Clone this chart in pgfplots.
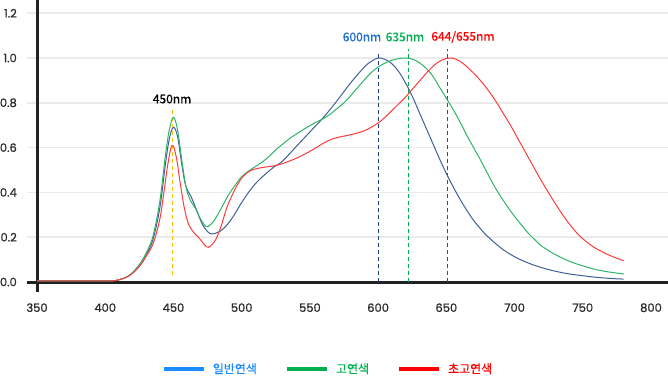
\documentclass[border=0pt]{standalone}
\usepackage{pgfplots}
\pgfplotsset{compat=1.18}
\usepackage{fontspec}
\setmainfont{Poppins}
\newfontfamily\tickfont{Poppins}[FakeBold=1]
\newfontfamily\kr{Noto Sans CJK KR}
\newfontfamily\krm{Noto Sans CJK KR}[FakeBold=0.5]
\definecolor{cblue}{HTML}{41609A}
\definecolor{cgreen}{HTML}{2DB566}
\definecolor{cred}{HTML}{FF3B3B}
\definecolor{dblue}{HTML}{1F3F7F}
\definecolor{dgreen}{HTML}{00B050}
\definecolor{dred}{HTML}{FF0000}
\definecolor{dorange}{HTML}{FFC000}
\definecolor{lblue}{HTML}{1A8CFF}
\definecolor{tblue}{HTML}{1A6FD0}
\definecolor{gridgray}{HTML}{EBEBEB}
\definecolor{axblack}{HTML}{222222}
\definecolor{ticktext}{HTML}{2A2A2A}
\begin{document}
\begin{tikzpicture}
\useasboundingbox (0,0) rectangle (668pt,376pt);
\begin{axis}[
  scale only axis,
  width=641pt, height=291.7pt,
  at={(27pt,84.3pt)}, anchor=south west,
  xmin=342.67, xmax=812.47,
  ymin=-0.0433, ymax=1.259,
  clip=false,
  axis line style={draw=none},
  major tick length=0pt,
  xtick={350,400,450,500,550,600,650,700,750,800},
  ytick={0,0.2,0.4,0.6,0.8,1.0,1.2},
  yticklabel style={/pgf/number format/fixed,/pgf/number format/fixed zerofill,/pgf/number format/precision=1, inner sep=0pt, anchor=east, xshift=-10pt},
  xticklabel style={inner sep=0pt, anchor=north, yshift=-11.5pt},
  /pgf/number format/assume math mode=true,
  tick label style={font=\tickfont\fontsize{11.5}{13}\selectfont, text=ticktext},
  ymajorgrids,
  grid style={color=gridgray, line width=1.6pt},
  legend style={at={(axis description cs:0.4696,-0.265)}, anchor=center, draw=none, fill=none,
    legend columns=3, font=\krm\fontsize{12}{14}\selectfont,
    /tikz/every odd column/.append style={column sep=5pt},
    /tikz/every even column/.append style={column sep=26pt}},
  legend image code/.code={\draw[#1] (0pt,0pt) -- (40pt,0pt);},
]
\draw[axblack, line width=3pt] (axis cs:342.67,0) -- (axis cs:812.47,0);
\draw[axblack, line width=3pt] (axis cs:350,-0.0433) -- (axis cs:350,1.259);

\addlegendimage{lblue, line width=4pt}
\addlegendentry{\textcolor{lblue}{일반연색}}
\addlegendimage{dgreen, line width=4pt}
\addlegendentry{\textcolor{dgreen}{고연색}}
\addlegendimage{dred, line width=4pt}
\addlegendentry{\textcolor{dred}{초고연색}}

% vertical dashed markers
\addplot[dorange, line width=1pt, dash pattern=on 4pt off 3pt, forget plot] coordinates {(449,0.03) (449,0.78)};
\addplot[dblue, line width=1pt, dash pattern=on 4pt off 3pt, forget plot] coordinates {(600,0) (600,1.03)};
\addplot[dgreen, line width=1pt, dash pattern=on 4pt off 3pt, forget plot] coordinates {(622,0) (622,1.04)};
\addplot[dred, line width=1pt, dash pattern=on 4pt off 3pt, forget plot] coordinates {(651,0) (651,1.04)};

% 일반연색
\addplot[cblue, line width=1pt, smooth, tension=0.6, forget plot] coordinates {
(350,0.005) (400,0.005) (410,0.01) (418,0.03) (425,0.07) (430,0.12) (435,0.19) (440,0.33)
(444,0.52) (447,0.64) (450,0.69) (453,0.65) (456,0.53) (459,0.43) (463,0.38) (467,0.32)
(471,0.26) (475,0.225) (478,0.215) (482,0.22) (487,0.24) (493,0.285) (499,0.345) (505,0.40)
(511,0.445) (518,0.485) (524,0.515) (530,0.54) (540,0.605) (550,0.67) (560,0.735) (570,0.81)
(580,0.89) (590,0.96) (595,0.985) (600,1.0) (605,0.994) (610,0.975) (615,0.94) (620,0.89)
(625,0.83) (630,0.76) (635,0.69) (640,0.62) (645,0.55) (650,0.485) (655,0.425) (660,0.37)
(665,0.32) (670,0.275) (675,0.238) (680,0.205) (690,0.152) (700,0.113) (710,0.085) (720,0.064)
(730,0.048) (740,0.036) (750,0.028) (760,0.021) (770,0.016) (780,0.013)};

% 고연색
\addplot[cgreen, line width=1pt, smooth, tension=0.6, forget plot] coordinates {
(350,0.005) (400,0.005) (410,0.01) (418,0.032) (425,0.078) (430,0.13) (435,0.205) (440,0.36)
(444,0.56) (447,0.68) (450,0.735) (453,0.68) (456,0.55) (459,0.43) (462,0.37) (466,0.33)
(470,0.28) (474,0.248) (477,0.255) (481,0.285) (486,0.34) (490,0.385) (495,0.43) (500,0.47)
(505,0.495) (510,0.515) (515,0.535) (520,0.56) (525,0.59) (530,0.615) (535,0.64) (540,0.66)
(545,0.68) (550,0.698) (555,0.715) (560,0.73) (565,0.75) (570,0.775) (575,0.80) (580,0.833)
(585,0.868) (590,0.903) (595,0.935) (600,0.96) (605,0.977) (610,0.99) (615,0.997) (620,1.0)
(625,0.995) (630,0.98) (635,0.955) (640,0.92) (645,0.87) (650,0.82) (655,0.77) (660,0.715)
(665,0.655) (670,0.6) (675,0.545) (680,0.487) (685,0.43) (690,0.38) (695,0.335) (700,0.293)
(705,0.255) (710,0.218) (715,0.188) (720,0.16) (730,0.122) (740,0.093) (750,0.072) (760,0.055)
(770,0.044) (780,0.036)};

% 초고연색
\addplot[cred, line width=1pt, smooth, tension=0.6, forget plot] coordinates {
(350,0.005) (400,0.005) (410,0.01) (418,0.03) (425,0.07) (430,0.115) (435,0.17) (440,0.28)
(443,0.40) (446,0.53) (449,0.61) (452,0.56) (455,0.44) (458,0.33) (461,0.26) (465,0.22)
(469,0.195) (474,0.158) (477,0.16) (481,0.19) (485,0.25) (489,0.33) (494,0.40) (499,0.455)
(504,0.488) (509,0.503) (515,0.511) (522,0.517) (528,0.525) (535,0.54) (542,0.558) (549,0.58)
(556,0.605) (563,0.63) (570,0.645) (578,0.655) (586,0.667) (593,0.684) (600,0.71) (605,0.735)
(610,0.765) (615,0.795) (620,0.825) (625,0.86) (630,0.895) (635,0.93) (640,0.962) (645,0.985)
(650,0.998) (653,1.0) (657,0.995) (662,0.977) (667,0.95) (672,0.92) (677,0.885) (682,0.845)
(687,0.8) (692,0.75) (697,0.7) (702,0.645) (707,0.59) (712,0.535) (717,0.48) (722,0.428)
(727,0.378) (732,0.33) (737,0.285) (742,0.245) (747,0.21) (752,0.183) (757,0.16) (762,0.142)
(770,0.118) (780,0.095)};

\node[font=\krm\fontsize{12}{14}\selectfont, text=black] at (axis cs:449,0.817) {450nm};
\node[font=\krm\fontsize{12}{14}\selectfont, text=tblue] at (axis cs:588.2,1.094) {600nm};
\node[font=\krm\fontsize{12}{14}\selectfont, text=dgreen] at (axis cs:619.7,1.094) {635nm};
\node[font=\krm\fontsize{12}{14}\selectfont, text=dred] at (axis cs:662.2,1.094) {644/655nm};
\end{axis}
\end{tikzpicture}
\end{document}
